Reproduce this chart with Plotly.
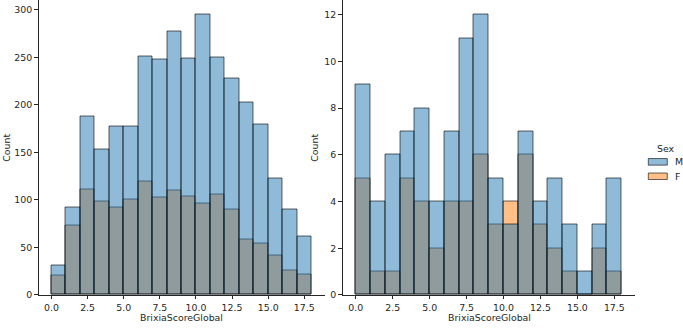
import plotly.graph_objects as go

# ---- data ----
bin_left = [0, 1, 2, 3, 4, 5, 6, 7, 8, 9, 10, 11, 12, 13, 14, 15, 16, 17]
bin_width = 1

left_M = [31, 92, 188, 153, 177, 177, 251, 248, 277, 249, 295, 250, 228, 203, 179, 123, 90, 62]
left_F = [20, 73, 111, 98, 92, 100, 119, 103, 110, 104, 96, 106, 90, 58, 54, 41, 26, 21]

right_M = [9, 4, 6, 7, 8, 4, 7, 11, 12, 5, 3, 7, 4, 5, 3, 1, 3, 5]
right_F = [5, 1, 1, 5, 4, 2, 4, 4, 6, 3, 4, 6, 3, 2, 1, 0, 2, 1]

x_tickvals = [0, 2.5, 5, 7.5, 10, 12.5, 15, 17.5]
x_ticktext = ["0.0", "2.5", "5.0", "7.5", "10.0", "12.5", "15.0", "17.5"]
left_yticks = [0, 50, 100, 150, 200, 250, 300]
right_yticks = [0, 2, 4, 6, 8, 10, 12]

# ---- style ----
W, H = 683, 328
BLUE = "rgba(31,119,180,0.5)"
ORANGE = "rgba(255,127,14,0.5)"
EDGE = "rgba(0,0,0,0.6)"
TXT = "#262626"
FONT = "DejaVu Sans"
FS = 9.4

centers = [b + bin_width / 2 for b in bin_left]

fig = go.Figure()

def add_hist(values, color, name, xa, ya):
    fig.add_trace(go.Bar(
        x=centers, y=values, width=bin_width, name=name,
        marker=dict(color=color, line=dict(color=EDGE, width=1)),
        xaxis=xa, yaxis=ya, showlegend=False, hoverinfo="x+y+name",
    ))

# F drawn first, M on top (as seaborn does)
add_hist(left_F, ORANGE, "F", "x", "y")
add_hist(left_M, BLUE, "M", "x", "y")
add_hist(right_F, ORANGE, "F", "x2", "y2")
add_hist(right_M, BLUE, "M", "x2", "y2")

def px_x(p):
    return p / W

def px_y(p):
    return 1 - p / H

y_bottom = 299.5
y_top = 0.5
ydom = [px_y(y_bottom), px_y(y_top)]

axis_common = dict(
    showgrid=False, zeroline=False, showline=True, linecolor=TXT, linewidth=1,
    ticks="outside", ticklen=3.5, tickwidth=1, tickcolor=TXT,
    tickfont=dict(family=FONT, size=FS, color=TXT),
    ticklabeloverflow="allow",
)

fig.update_layout(
    width=W, height=H,
    margin=dict(l=0, r=0, t=0, b=0),
    paper_bgcolor="white", plot_bgcolor="white",
    barmode="overlay", bargap=0,
    font=dict(family=FONT, size=FS, color=TXT),
    xaxis=dict(domain=[px_x(38.5), px_x(324.5)], range=[-0.9, 18.9],
               tickvals=x_tickvals, ticktext=x_ticktext, anchor="y", **axis_common),
    yaxis=dict(domain=ydom, range=[0, 300 * (y_bottom - y_top) / (y_bottom - 10)],
               tickvals=left_yticks, anchor="x", **axis_common),
    xaxis2=dict(domain=[px_x(342.5), px_x(635)], range=[-0.9, 18.9],
                tickvals=x_tickvals, ticktext=x_ticktext, anchor="y2", **axis_common),
    yaxis2=dict(domain=ydom, range=[0, 12 * (y_bottom - y_top) / (y_bottom - 15)],
                tickvals=right_yticks, anchor="x2", **axis_common),
)

ann = []
def label(text, x, y, angle=0, xanchor="center"):
    ann.append(dict(text=text, x=px_x(x), y=px_y(y), xref="paper", yref="paper",
                    showarrow=False, textangle=angle, xanchor=xanchor, yanchor="middle",
                    font=dict(family=FONT, size=FS, color=TXT)))

label("BrixiaScoreGlobal", 181, 322)
label("BrixiaScoreGlobal", 489, 322)
label("Count", 7, 150, angle=-90)
label("Count", 315, 150, angle=-90)

# legend
label("Sex", 666, 150.5)
label("M", 673, 164.5, xanchor="left")
label("F", 673, 179, xanchor="left")
fig.update_layout(annotations=ann)

shapes = []
for (y0, y1), col in [((161, 167.7), BLUE), ((175.7, 182.3), ORANGE)]:
    shapes.append(dict(type="rect", xref="paper", yref="paper",
                       x0=px_x(648.3), x1=px_x(667.3), y0=px_y(y1), y1=px_y(y0),
                       fillcolor=col, line=dict(color=EDGE, width=1)))
fig.update_layout(shapes=shapes)

fig.write_html("out.html", config={"displayModeBar": False},
               post_script="document.body.style.margin='0px';")
